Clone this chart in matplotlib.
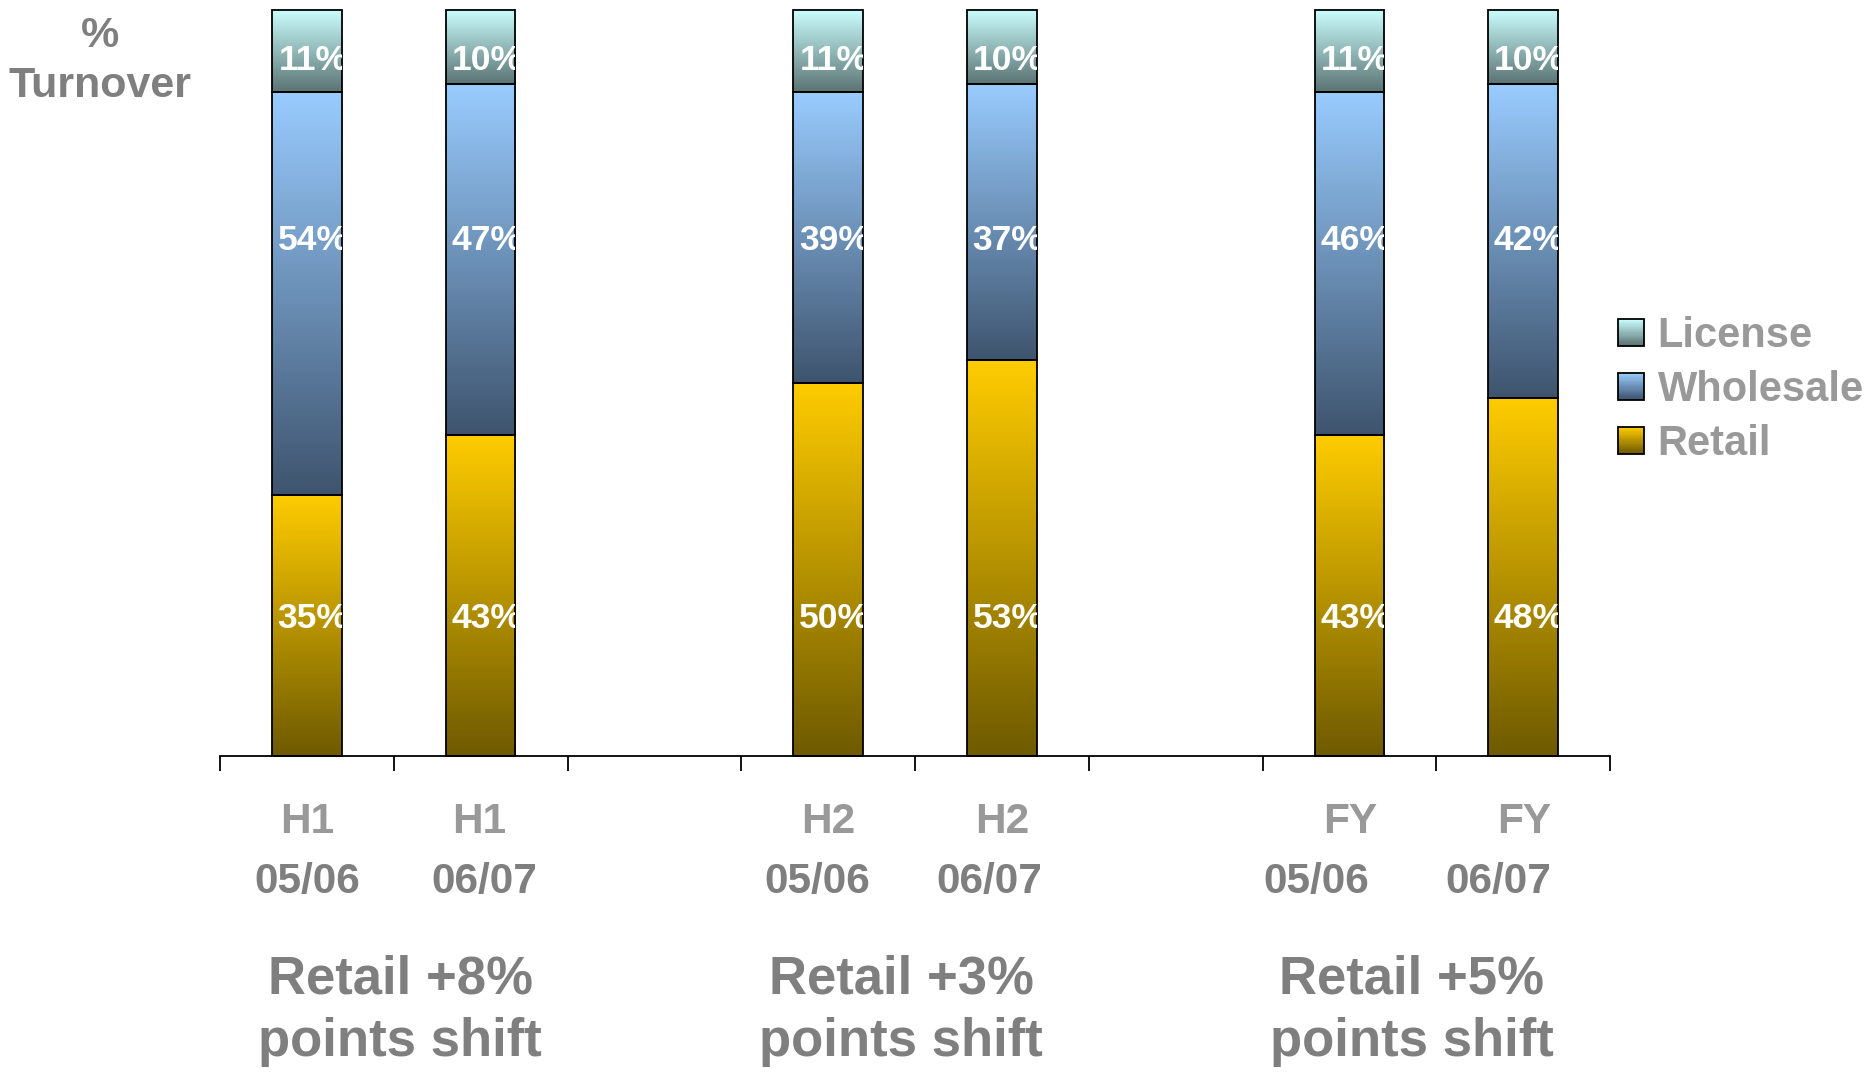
import numpy as np
import matplotlib
matplotlib.use("Agg")
import matplotlib.pyplot as plt
from matplotlib.patches import Rectangle, Patch
from matplotlib.legend_handler import HandlerBase
import matplotlib.transforms as mtransforms

plt.rcParams['font.family'] = ['Liberation Sans', 'DejaVu Sans']
plt.rcParams['font.weight'] = 'bold'

# ---------------- data ----------------
periods = ["H1", "H1", "H2", "H2", "FY", "FY"]
years = ["05/06", "06/07", "05/06", "06/07", "05/06", "06/07"]
positions = [0, 1, 3, 4, 6, 7]          # category slots (2 and 5 are empty)
retail = [35, 43, 50, 53, 43, 48]
wholesale = [54, 47, 39, 37, 46, 42]
license_ = [11, 10, 11, 10, 11, 10]
group_line1 = ["Retail +8%", "Retail +3%", "Retail +5%"]
group_line2 = ["points shift", "points shift", "points shift"]

# gradient colours (top, bottom) per series
grad = {
    "Retail": ((255, 204, 0), (110, 90, 0)),
    "Wholesale": ((153, 204, 255), (62, 84, 110)),
    "License": ((204, 255, 255), (90, 115, 115)),
}

W, H = 1866, 1074
fig = plt.figure(figsize=(W / 100, H / 100), dpi=100)
ax = fig.add_axes([220 / W, 1 - 756 / H, (1610 - 220) / W, (756 - 9.5) / H])

bar_w = 0.40

def gradient_img(top, bot, n=256):
    t = np.linspace(0, 1, n)[:, None]
    top = np.array(top) / 255.0
    bot = np.array(bot) / 255.0
    img = top[None, :] * (1 - t) + bot[None, :] * t
    return img[:, None, :]

series = [("Retail", retail), ("Wholesale", wholesale), ("License", license_)]
label_y = {"Retail": 18.4, "Wholesale": 69.0, "License": 93.2}
bottoms = np.zeros(len(positions))
for name, vals in series:
    vals = np.array(vals, dtype=float)
    bars = ax.bar(positions, vals, bar_w, bottom=bottoms, facecolor='none',
                  edgecolor='black', linewidth=1.3, zorder=3, clip_on=False)
    top_c, bot_c = grad[name]
    img = gradient_img(top_c, bot_c)
    for p, v, b, rect in zip(positions, vals, bottoms, bars.patches):
        ax.imshow(img, extent=(p - bar_w / 2, p + bar_w / 2, b, b + v),
                  aspect='auto', zorder=2, interpolation='bilinear', clip_on=False)
        t = ax.text(p + 0.035, label_y[name], f"{int(v)}%", ha='center', va='center',
                    color='white', fontsize=25.5, fontweight='bold', zorder=4, clip_on=True)
        t.set_clip_path(rect)
    bottoms = bottoms + vals

ax.set_xlim(-0.5, 7.5)
ax.set_ylim(0, 100)
ax.set_aspect('auto')
for s in ['left', 'right', 'top']:
    ax.spines[s].set_visible(False)
ax.spines['bottom'].set_linewidth(1.3)
ax.set_yticks([])
ax.set_xticks(np.arange(-0.5, 8.0, 1.0))
ax.set_xticklabels([])
ax.tick_params(axis='x', direction='out', length=11, width=1.3, color='black')

# category labels
blend = mtransforms.blended_transform_factory(ax.transData, ax.transAxes)
period_x = [0.0, 0.994, 3.0, 4.0, 6.007, 7.007]
year_x = [0.0, 1.021, 2.939, 3.925, 5.81, 6.856]
for px, yx, per, yr in zip(period_x, year_x, periods, years):
    ax.text(px, -0.089, per, transform=blend, ha='center', va='center',
            fontsize=30.5, color='#999999', fontweight='bold')
    ax.text(yx, -0.169, yr, transform=blend, ha='center', va='center',
            fontsize=30.5, color='#7f7f7f', fontweight='bold')

group_x = [0.536, 3.42, 6.357]
for gx, l1, l2 in zip(group_x, group_line1, group_line2):
    ax.text(gx, -0.299, l1, transform=blend, ha='center', va='center',
            fontsize=38, color='#7f7f7f', fontweight='bold')
    ax.text(gx, -0.383, l2, transform=blend, ha='center', va='center',
            fontsize=38, color='#7f7f7f', fontweight='bold')

fig.text(100 / W, 1 - 36 / H, "%", ha='center', va='center', fontsize=31,
         color='#7f7f7f', fontweight='bold')
fig.text(100 / W, 1 - 86 / H, "Turnover", ha='center', va='center', fontsize=31,
         color='#7f7f7f', fontweight='bold')

# legend with gradient squares
class GradHandler(HandlerBase):
    def __init__(self, top, bot):
        super().__init__()
        self.top = np.array(top) / 255.0
        self.bot = np.array(bot) / 255.0

    def create_artists(self, legend, orig_handle, xdescent, ydescent, width, height, fontsize, trans):
        n = 24
        arts = []
        for i in range(n):
            f = i / (n - 1)
            c = self.bot * (1 - f) + self.top * f
            r = Rectangle((-xdescent, -ydescent + height * i / n), width, height / n * 1.05,
                          facecolor=c, edgecolor='none', transform=trans)
            arts.append(r)
        arts.append(Rectangle((-xdescent, -ydescent), width, height, facecolor='none',
                              edgecolor='black', linewidth=1.3, transform=trans))
        return arts

handles = []
hmap = {}
for name in ["License", "Wholesale", "Retail"]:
    h = Patch(label=name)
    handles.append(h)
    hmap[h] = GradHandler(*grad[name])

leg = fig.legend(handles=handles, handler_map=hmap, loc='upper left',
                 bbox_to_anchor=(1618 / W, 1 - 316 / H), frameon=False,
                 borderpad=0, borderaxespad=0,
                 handlelength=0.62, handleheight=0.62, handletextpad=0.33,
                 labelspacing=0.335, prop={'weight': 'bold', 'size': 30})
for t in leg.get_texts():
    t.set_color('#999999')

fig.savefig("out.png", dpi=100)
